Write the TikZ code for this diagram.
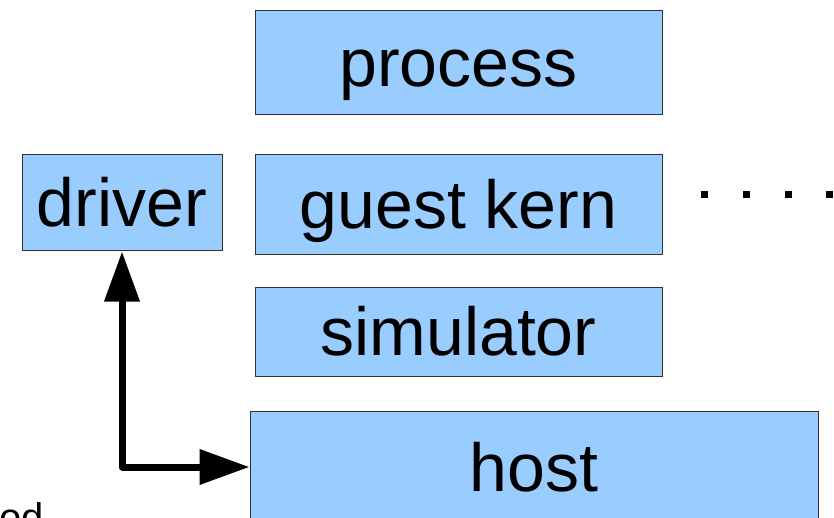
\documentclass[tikz,border=0pt]{standalone}
\usepackage{fontspec}
\setmainfont{Liberation Sans}
\usetikzlibrary{arrows.meta}
\definecolor{boxB}{RGB}{153, 204, 255}
\definecolor{edgeG}{RGB}{50, 50, 50}

\begin{document}
\begin{tikzpicture}[x=1pt,y=-1pt,
    layer/.style={draw=edgeG,fill=boxB,line width=1pt,inner sep=0pt,
      text height=48pt,text depth=0pt,font=\fontsize{68}{80}\selectfont},
    link/.style={line width=7pt,line join=round,
      {Triangle[length=50pt,width=34pt]}-{Triangle[length=50pt,width=34pt]}}]
    \clip (0,0) rectangle (834,518);
    \node[layer,minimum width=407pt,minimum height=104pt] (process) at (458.5,63) {process};
    \node[layer,minimum width=200pt,minimum height=96pt] (driver) at (122,203) {driver};
    \node[layer,minimum width=407pt,minimum height=100pt] (guest) at (458.5,205) {guest kern};
    \node[layer,minimum width=407pt,minimum height=89pt] (sim) at (458.5,331.5) {simulator};
    \node[layer,minimum width=568pt,minimum height=112pt] (host) at (534,467) {host};
    \node[anchor=base east,inner sep=0pt,font=\fontsize{40}{48}\selectfont] (mod) at (44,531) {od};
  % more guests
    \foreach \i in {704,746,788,829}
      \fill (\i-3.5,191) rectangle +(7,7);
    \draw[link] (driver.south) |- (host.west);
\end{tikzpicture}
\end{document}
